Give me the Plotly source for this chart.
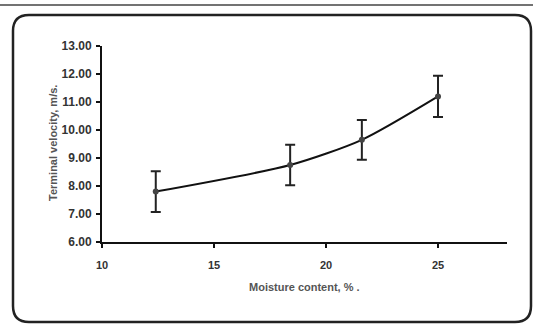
import plotly.graph_objects as go

moisture = [12.4, 18.4, 21.6, 25.0]
velocity = [7.80, 8.75, 9.65, 11.20]
error = [0.73, 0.72, 0.71, 0.74]
y_ticks = [6, 7, 8, 9, 10, 11, 12, 13]
x_ticks = [10, 15, 20, 25]

W, H = 533, 324
L, R, T, B = 102, 26, 46, 82
pw, ph = W - L - R, H - T - B

def px(x):
    return (x - L) / pw

def py(y):
    return (H - B - y) / ph

fig = go.Figure()
fig.add_trace(go.Scatter(
    x=moisture, y=velocity, mode="lines+markers",
    line=dict(color="#111", width=2, shape="spline", smoothing=0.7),
    marker=dict(size=6, color="#444"),
    error_y=dict(type="data", array=error, visible=True, color="#222", thickness=2, width=5),
    showlegend=False, hoverinfo="skip",
))

# rounded frame
x0, x1, y0, y1, r = 13, 531, 15, 322, 16
path = (
    f"M {px(x0+r)},{py(y0)} L {px(x1-r)},{py(y0)} "
    f"Q {px(x1)},{py(y0)} {px(x1)},{py(y0+r)} "
    f"L {px(x1)},{py(y1-r)} Q {px(x1)},{py(y1)} {px(x1-r)},{py(y1)} "
    f"L {px(x0+r)},{py(y1)} Q {px(x0)},{py(y1)} {px(x0)},{py(y1-r)} "
    f"L {px(x0)},{py(y0+r)} Q {px(x0)},{py(y0)} {px(x0+r)},{py(y0)} Z"
)
shapes = [
    dict(type="path", xref="paper", yref="paper", path=path,
         line=dict(color="#222", width=2.5), layer="below"),
    dict(type="line", xref="paper", yref="paper", x0=px(0), x1=px(W), y0=py(5), y1=py(5),
         line=dict(color="#444", width=1.5)),
]

font = dict(family="Liberation Sans, Arial", size=11, color="#333")
fig.update_layout(
    width=W, height=H, margin=dict(l=L, r=R, t=T, b=B),
    paper_bgcolor="white", plot_bgcolor="white",
    shapes=shapes,
    font=font,
    xaxis=dict(range=[10, 28.08], tickvals=x_ticks, ticktext=[f"<b>{v}</b>" for v in x_ticks],
               showgrid=False, zeroline=False, showline=True, linecolor="#111", linewidth=2,
               ticks="outside", ticklen=4, tickcolor="#111", tickwidth=1.5,
               ticklabelstandoff=8, tickfont=dict(size=11, color="#333")),
    yaxis=dict(range=[6, 13], tickvals=y_ticks, ticktext=[f"<b>{v:.2f}</b>" for v in y_ticks],
               showgrid=False, zeroline=False, showline=True, linecolor="#111", linewidth=2,
               ticks="outside", ticklen=4, tickcolor="#111", tickwidth=1.5,
               ticklabelstandoff=2, tickfont=dict(size=12, color="#333")),
    annotations=[
        dict(text="<b>Moisture content, % .</b>", xref="paper", yref="paper",
             x=px(304), y=py(295), showarrow=False, font=dict(size=11, color="#555")),
        dict(text="<b>Terminal velocity, m/s.</b>", xref="paper", yref="paper",
             x=px(45), y=py(143), showarrow=False, textangle=-90,
             font=dict(size=11, color="#555")),
    ],
)
fig.write_html("out.html")
